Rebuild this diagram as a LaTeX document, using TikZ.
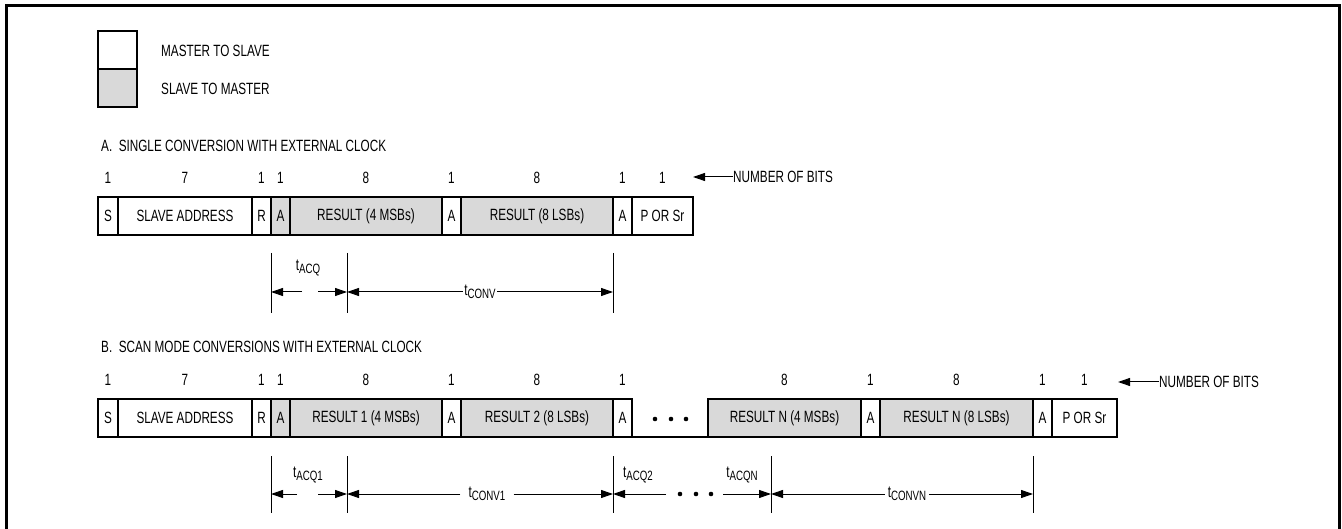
\documentclass[tikz,border=0pt]{standalone}
\usepackage{fontspec}
\setmainfont{Liberation Sans}[FakeStretch=0.72]
\usetikzlibrary{positioning,arrows.meta}
\newcommand{\tsub}[1]{t\raisebox{-3.5pt}{\fontsize{13.5}{15}\selectfont #1}}

\begin{document}
\begin{tikzpicture}[x=1pt, y=-1pt, node distance=0pt,
  font=\fontsize{16.3}{19}\selectfont,
  wbox/.style={draw, line width=1.2pt, minimum height=38pt, inner sep=0pt, outer sep=0pt, fill=white},
  gbox/.style={wbox, fill=gray!30},
  bits/.style={inner sep=0pt},
  lbl/.style={inner sep=0pt, anchor=west},
  dim/.style={line width=1pt, -{Triangle[length=12pt,width=8pt]}},
  tick/.style={line width=1pt}]
\useasboundingbox (0,0) rectangle (1342,529);
\draw[line width=2.5pt] (6.5,529) -- (6.5,5.5) -- (1339.5,5.5) -- (1339.5,529);

% legend
\node[wbox, minimum width=39pt, anchor=north west] (lgM) at (98,31) {};
\node[gbox, minimum width=39pt, below=of lgM] (lgS) {};
\node[lbl] (lgMt) at (161,51) {MASTER TO SLAVE};
\node[lbl] (lgSt) at (161,89) {SLAVE TO MASTER};

% A. single conversion
\node[lbl] (ttlA) at (101,146) {A.\ \ SINGLE CONVERSION WITH EXTERNAL CLOCK};
\node[wbox, minimum width=20pt, anchor=north west] (aS) at (98,197) {S};
\node[wbox, minimum width=134pt, right=of aS] (aAddr) {SLAVE ADDRESS};
\node[wbox, minimum width=19pt, right=of aAddr] (aR) {R};
\node[gbox, minimum width=19pt, right=of aR] (aA1) {A};
\node[gbox, minimum width=152pt, right=of aA1] (aRes1) {RESULT (4 MSBs)};
\node[wbox, minimum width=19pt, right=of aRes1] (aA2) {A};
\node[gbox, minimum width=152pt, right=of aA2] (aRes2) {RESULT (8 LSBs)};
\node[wbox, minimum width=19pt, right=of aRes2] (aA3) {A};
\node[wbox, minimum width=61pt, right=of aA3] (aP) {P OR Sr};

\node[bits, above=13pt of aS] (naS) {1};
\node[bits, above=13pt of aAddr] (naAddr) {7};
\node[bits, above=13pt of aR] (naR) {1};
\node[bits, above=13pt of aA1] (naA1) {1};
\node[bits, above=13pt of aRes1] (naRes1) {8};
\node[bits, above=13pt of aA2] (naA2) {1};
\node[bits, above=13pt of aRes2] (naRes2) {8};
\node[bits, above=13pt of aA3] (naA3) {1};
\node[bits, above=13pt of aP] (naP) {1};
\node[lbl] (nbA) at (733,177) {NUMBER OF BITS};
\coordinate (hA) at (693,177);
\draw[dim] (nbA.west) -- (hA);

% A. timing
\coordinate (kA1) at (271,292);
\coordinate (kA2) at (347,292);
\coordinate (kA3) at (613,292);
\coordinate (gA1) at (302,292);
\coordinate (gA2) at (318,292);
\draw[tick] ([yshift=39pt]kA1) -- ([yshift=-21pt]kA1);
\draw[tick] ([yshift=39pt]kA2) -- ([yshift=-21pt]kA2);
\draw[tick] ([yshift=39pt]kA3) -- ([yshift=-21pt]kA3);
\draw[dim] (gA1) -- (kA1);
\draw[dim] (gA2) -- (kA2);
\node (acqA) at (308,268) {\tsub{ACQ}};
\node[inner xsep=1.5pt] (convA) at (480,292) {\tsub{CONV}};
\draw[dim] (convA.west) -- (kA2);
\draw[dim] (convA.east) -- (kA3);

% B. scan mode
\node[lbl] (ttlB) at (101,347) {B.\ \ SCAN MODE CONVERSIONS WITH EXTERNAL CLOCK};
\node[wbox, minimum width=20pt, anchor=north west] (bS) at (98,399) {S};
\node[wbox, minimum width=134pt, right=of bS] (bAddr) {SLAVE ADDRESS};
\node[wbox, minimum width=19pt, right=of bAddr] (bR) {R};
\node[gbox, minimum width=19pt, right=of bR] (bA1) {A};
\node[gbox, minimum width=152pt, right=of bA1] (bRes1) {RESULT 1 (4 MSBs)};
\node[wbox, minimum width=19pt, right=of bRes1] (bA2) {A};
\node[gbox, minimum width=152pt, right=of bA2] (bRes2) {RESULT 2 (8 LSBs)};
\node[wbox, minimum width=19pt, right=of bRes2] (bA3) {A};
\node[gbox, minimum width=153pt, anchor=north west] (bRes3) at (708,399) {RESULT N (4 MSBs)};
\node[wbox, minimum width=19pt, right=of bRes3] (bA4) {A};
\node[gbox, minimum width=153pt, right=of bA4] (bRes4) {RESULT N (8 LSBs)};
\node[wbox, minimum width=19pt, right=of bRes4] (bA5) {A};
\node[wbox, minimum width=65pt, right=of bA5] (bP) {P OR Sr};
\draw[line width=1.2pt] (bA3.south east) -- (bRes3.south west);
\fill (655,419) circle (2.3pt) (671,419) circle (2.3pt) (686,419) circle (2.3pt);

\node[bits, above=13pt of bS] (nbS) {1};
\node[bits, above=13pt of bAddr] (nbAddr) {7};
\node[bits, above=13pt of bR] (nbR) {1};
\node[bits, above=13pt of bA1] (nbA1) {1};
\node[bits, above=13pt of bRes1] (nbRes1) {8};
\node[bits, above=13pt of bA2] (nbA2) {1};
\node[bits, above=13pt of bRes2] (nbRes2) {8};
\node[bits, above=13pt of bA3] (nbA3) {1};
\node[bits, above=13pt of bRes3] (nbRes3) {8};
\node[bits, above=13pt of bA4] (nbA4) {1};
\node[bits, above=13pt of bRes4] (nbRes4) {8};
\node[bits, above=13pt of bA5] (nbA5) {1};
\node[bits, above=13pt of bP] (nbP) {1};
\node[lbl] (nbB) at (1159,382) {NUMBER OF BITS};
\coordinate (hB) at (1118,382);
\draw[dim] (nbB.west) -- (hB);

% B. timing
\coordinate (kB1) at (271,494);
\coordinate (kB2) at (347,494);
\coordinate (kB3) at (613,494);
\coordinate (kB4) at (771,494);
\coordinate (kB5) at (1033,494);
\coordinate (gB1) at (297,494);
\coordinate (gB2) at (318,494);
\coordinate (gB3) at (666,494);
\coordinate (gB4) at (723,494);
\draw[tick] ([yshift=38pt]kB1) -- ([yshift=-19pt]kB1);
\draw[tick] ([yshift=38pt]kB2) -- ([yshift=-19pt]kB2);
\draw[tick] ([yshift=38pt]kB3) -- ([yshift=-19pt]kB3);
\draw[tick] ([yshift=38pt]kB4) -- ([yshift=-19pt]kB4);
\draw[tick] ([yshift=38pt]kB5) -- ([yshift=-19pt]kB5);
\draw[dim] (gB1) -- (kB1);
\draw[dim] (gB2) -- (kB2);
\draw[dim] (gB3) -- (kB3);
\draw[dim] (gB4) -- (kB4);
\fill (680,494) circle (2.3pt) (696,494) circle (2.3pt) (711,494) circle (2.3pt);
\node (acqB1) at (308,475) {\tsub{ACQ1}};
\node (acqB2) at (638,475) {\tsub{ACQ2}};
\node (acqBN) at (742,475) {\tsub{ACQN}};
\node[inner xsep=8pt] (convB1) at (487,494) {\tsub{CONV1}};
\node[inner xsep=3pt] (convBN) at (907,494) {\tsub{CONVN}};
\draw[dim] (convB1.west) -- (kB2);
\draw[dim] (convB1.east) -- (kB3);
\draw[dim] (convBN.west) -- (kB4);
\draw[dim] (convBN.east) -- (kB5);
\end{tikzpicture}
\end{document}
